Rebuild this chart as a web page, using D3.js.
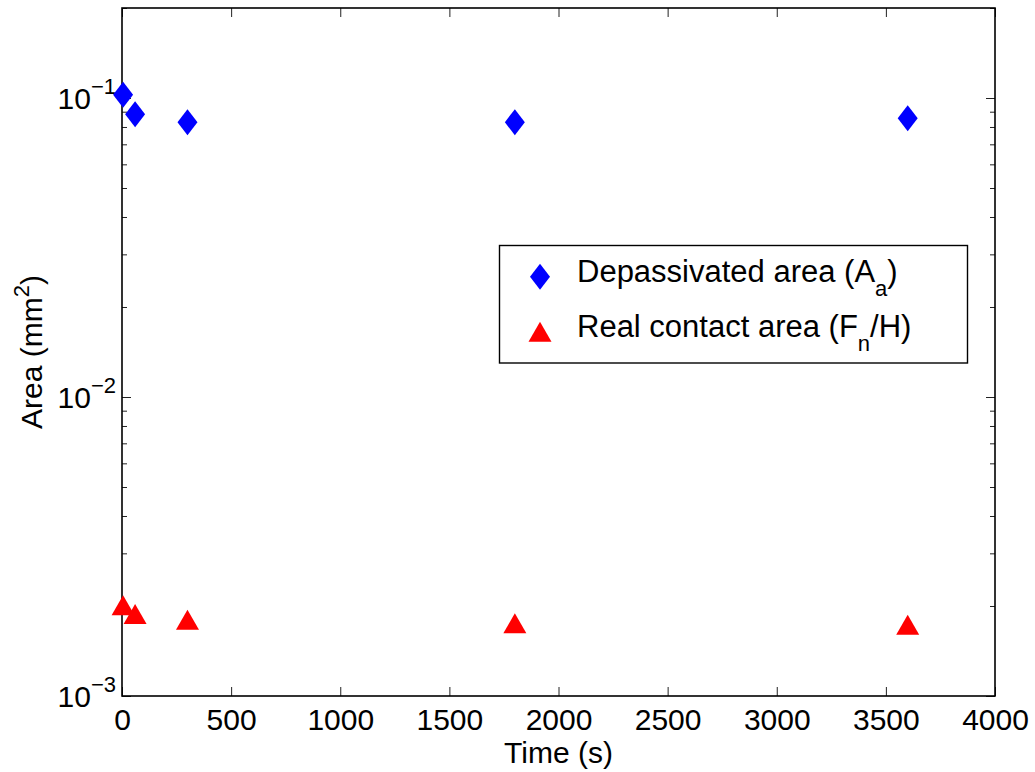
<!DOCTYPE html>
<html>
<head>
<meta charset="utf-8">
<script src="https://cdn.jsdelivr.net/npm/d3@7"></script>
<style>
  html, body { margin: 0; padding: 0; background: #fff; }
  svg { display: block; }
  text { font-family: "Liberation Sans", Arial, Helvetica, sans-serif; fill: #000; }
</style>
</head>
<body>
<svg id="chart" width="1035" height="772"></svg>
<script>
// ---- data ----
const times = [5, 60, 300, 1800, 3600];
const depassivatedArea = [0.1025, 0.0883, 0.083, 0.083, 0.0856];
const realContactArea = [0.00201, 0.00188, 0.0018, 0.00175, 0.00173];
const xTickValues = [0, 500, 1000, 1500, 2000, 2500, 3000, 3500, 4000];
const yTickValues = [0.001, 0.01, 0.1];
const yTickExponents = ["\u22123", "\u22122", "\u22121"];
const seriesNames = ["Depassivated area (A", "Real contact area (F"];
const seriesSubs = ["a", "n"];
const seriesTails = [")", "/H)"];

// ---- layout ----
const L = 122, R = 995, T = 8, B = 696;
const svg = d3.select("#chart");

const x = d3.scaleLinear().domain([0, 4000]).range([L, R]);
const y = d3.scaleLog().domain([0.001, 0.2]).range([B, T]);

const minorY = [];
[0.001, 0.01, 0.1].forEach(d => { for (let k = 2; k <= 9; k++) { const v = d * k; if (v <= 0.2 + 1e-12) minorY.push(v); } });

const tickFont = 30;

// bottom axis
const gx = svg.append("g").attr("transform", `translate(0,${B})`)
  .call(d3.axisBottom(x).tickValues(xTickValues).tickSizeInner(-9).tickSizeOuter(0).tickPadding(13).tickFormat(d3.format("d")));
gx.select(".domain").remove();
gx.selectAll("text").style("font-size", tickFont + "px").style("font-family", '"Liberation Sans", Arial, sans-serif').attr("fill", "#000");
gx.selectAll("line").attr("stroke", "#222");

// top axis
const gxt = svg.append("g").attr("transform", `translate(0,${T})`)
  .call(d3.axisTop(x).tickValues(xTickValues).tickSizeInner(-9).tickSizeOuter(0).tickFormat(""));
gxt.select(".domain").remove();
gxt.selectAll("line").attr("stroke", "#222");

// left & right y axes, major + minor
function yAxes(vals, len) {
  const gl = svg.append("g").attr("transform", `translate(${L},0)`)
    .call(d3.axisLeft(y).tickValues(vals).tickSizeInner(-len).tickSizeOuter(0).tickFormat(""));
  gl.select(".domain").remove();
  gl.selectAll("line").attr("stroke", "#222");
  const gr = svg.append("g").attr("transform", `translate(${R},0)`)
    .call(d3.axisRight(y).tickValues(vals).tickSizeInner(-len).tickSizeOuter(0).tickFormat(""));
  gr.select(".domain").remove();
  gr.selectAll("line").attr("stroke", "#222");
}
yAxes(yTickValues, 9);
yAxes(minorY, 5);

// y tick labels 10^n
yTickValues.forEach((v, i) => {
  const t = svg.append("text")
    .attr("x", L - 6).attr("y", y(v) + 11)
    .attr("text-anchor", "end")
    .style("font-size", tickFont + "px");
  t.append("tspan").text("10");
  t.append("tspan").attr("dy", -15).style("font-size", "22px").text(yTickExponents[i]);
});

// frame
svg.append("rect").attr("x", L).attr("y", T).attr("width", R - L).attr("height", B - T)
  .attr("fill", "none").attr("stroke", "#000").attr("stroke-width", 1.6);

// axis labels
svg.append("text").attr("x", (L + R) / 2).attr("y", 763).attr("text-anchor", "middle")
  .style("font-size", "30px").text("Time (s)");
const yl = svg.append("text").attr("transform", `translate(42,${(T + B) / 2}) rotate(-90)`)
  .attr("text-anchor", "middle").style("font-size", "30px");
yl.append("tspan").text("Area (mm");
yl.append("tspan").attr("dy", -13).style("font-size", "22px").text("2");
yl.append("tspan").attr("dy", 13).text(")");

// markers
const DW = 10, DH = 13;   // diamond half sizes
const TW = 11.5, TH = 10; // triangle half sizes
function diamond(cx, cy) {
  const p = d3.path();
  p.moveTo(cx, cy - DH); p.lineTo(cx + DW, cy); p.lineTo(cx, cy + DH); p.lineTo(cx - DW, cy); p.closePath();
  return p.toString();
}
function triangle(cx, cy) {
  const p = d3.path();
  p.moveTo(cx, cy - TH); p.lineTo(cx + TW, cy + TH); p.lineTo(cx - TW, cy + TH); p.closePath();
  return p.toString();
}
const blueData = times.map((t, i) => ({ t, v: depassivatedArea[i] }));
const redData = times.map((t, i) => ({ t, v: realContactArea[i] }));

svg.append("g").selectAll("path").data(blueData).join("path")
  .attr("d", d => diamond(x(d.t), y(d.v))).attr("fill", "#0000ff");
svg.append("g").selectAll("path").data(redData).join("path")
  .attr("d", d => triangle(x(d.t), y(d.v))).attr("fill", "#ff0000");

// legend
const lg = svg.append("g");
lg.append("rect").attr("x", 499.5).attr("y", 245.5).attr("width", 468).attr("height", 117.5)
  .attr("fill", "#fff").attr("stroke", "#000").attr("stroke-width", 1.4);
const rows = [276.7, 331.7];
lg.append("path").attr("d", diamond(540, rows[0])).attr("fill", "#0000ff");
lg.append("path").attr("d", triangle(540, rows[1])).attr("fill", "#ff0000");
rows.forEach((ry, i) => {
  const t = lg.append("text").attr("x", 577).attr("y", ry + 5).style("font-size", "31px");
  t.append("tspan").text(seriesNames[i]);
  t.append("tspan").attr("dy", 14).style("font-size", "22px").text(seriesSubs[i]);
  t.append("tspan").attr("dy", -14).text(seriesTails[i]);
});
</script>
</body>
</html>
